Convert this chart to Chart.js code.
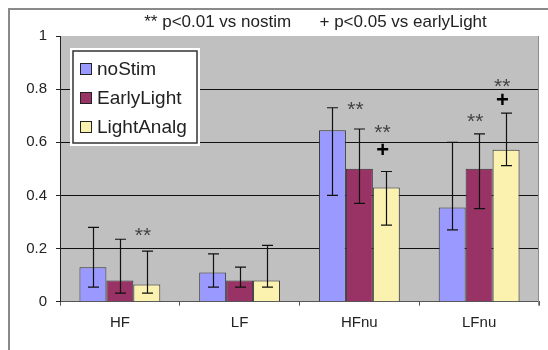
<!DOCTYPE html>
<html lang="en">
  <head>
    <meta charset="UTF-8" />
    <title>HRV bars</title>
    <script src="https://cdn.jsdelivr.net/npm/chart.js@4.4.0/dist/chart.umd.min.js"></script>
    <style>
      html,
      body {
        margin: 0;
        padding: 0;
        background: #fff;
      }
      canvas {
        display: block;
      }
    </style>
  </head>
  <body>
    <canvas id="chart" width="548" height="350"></canvas>
    <script>
      const categories = ["HF", "LF", "HFnu", "LFnu"];

      const noStim = [0.13, 0.11, 0.645, 0.355];
      const noStimLow = [0.055, 0.055, 0.4, 0.27];
      const noStimHigh = [0.28, 0.18, 0.73, 0.6];

      const earlyLight = [0.08, 0.08, 0.5, 0.5];
      const earlyLightLow = [0.032, 0.055, 0.37, 0.35];
      const earlyLightHigh = [0.235, 0.13, 0.65, 0.632];

      const lightAnalg = [0.065, 0.08, 0.43, 0.572];
      const lightAnalgLow = [0.032, 0.055, 0.288, 0.512];
      const lightAnalgHigh = [0.19, 0.212, 0.49, 0.71];

      // significance marks: text, category, series index, height (value units)
      const markText = ["**", "**", "**", "+", "**", "**", "+"];
      const markCategory = ["HF", "HFnu", "HFnu", "HFnu", "LFnu", "LFnu", "LFnu"];
      const markSeries = [2, 1, 2, 2, 1, 2, 2];
      const markValue = [0.262, 0.738, 0.65, 0.575, 0.69, 0.823, 0.763];

      const titleText = "** p<0.01 vs nostim      + p<0.05 vs earlyLight";

      const errLow = [noStimLow, earlyLightLow, lightAnalgLow];
      const errHigh = [noStimHigh, earlyLightHigh, lightAnalgHigh];

      const FONT = "'Liberation Sans', Arial, sans-serif";

      const decor = {
        id: "decor",
        beforeDraw(chart) {
          const { ctx, chartArea: a } = chart;
          ctx.save();
          ctx.fillStyle = "#fff";
          ctx.fillRect(0, 0, chart.width, chart.height);
          ctx.fillStyle = "#c0c0c0";
          ctx.fillRect(a.left, a.top, a.right - a.left, a.bottom - a.top);
          // outer frame
          ctx.strokeStyle = "#8a8a8a";
          ctx.lineWidth = 2;
          ctx.beginPath();
          ctx.moveTo(9, chart.height);
          ctx.lineTo(9, 9);
          ctx.lineTo(chart.width, 9);
          ctx.stroke();
          ctx.restore();
        },
        afterDatasetsDraw(chart) {
          const { ctx, chartArea: a } = chart;
          const y = chart.scales.y;
          ctx.save();
          // right edge of plot area
          ctx.strokeStyle = "#8c8c8c";
          ctx.lineWidth = 1;
          ctx.beginPath();
          ctx.moveTo(a.right - 0.5, a.top);
          ctx.lineTo(a.right - 0.5, a.bottom + 4);
          ctx.stroke();

          // error bars
          ctx.strokeStyle = "#111";
          ctx.lineWidth = 1.2;
          chart.data.datasets.forEach((ds, i) => {
            const meta = chart.getDatasetMeta(i);
            meta.data.forEach((bar, j) => {
              const x = Math.round(bar.x) + 0.5;
              const yl = y.getPixelForValue(errLow[i][j]);
              const yh = y.getPixelForValue(errHigh[i][j]);
              ctx.beginPath();
              ctx.moveTo(x, yl);
              ctx.lineTo(x, yh);
              ctx.moveTo(x - 5.5, yl);
              ctx.lineTo(x + 5.5, yl);
              ctx.moveTo(x - 5.5, yh);
              ctx.lineTo(x + 5.5, yh);
              ctx.stroke();
            });
          });

          // significance marks
          markText.forEach((t, k) => {
            const j = categories.indexOf(markCategory[k]);
            const bar = chart.getDatasetMeta(markSeries[k]).data[j];
            ctx.font = t === "+" ? "bold 22px " + FONT : "21px " + FONT;
            ctx.fillStyle = t === "+" ? "#000" : "#444";
            const m = ctx.measureText(t);
            const inkW = m.actualBoundingBoxLeft + m.actualBoundingBoxRight;
            const cx = bar.x - 4;
            const cy = y.getPixelForValue(markValue[k]);
            ctx.textAlign = "left";
            ctx.textBaseline = "alphabetic";
            ctx.fillText(
              t,
              cx - inkW / 2 + m.actualBoundingBoxLeft,
              cy + (m.actualBoundingBoxAscent - m.actualBoundingBoxDescent) / 2
            );
          });

          // title
          ctx.font = "17px " + FONT;
          ctx.fillStyle = "#222";
          ctx.textAlign = "center";
          ctx.textBaseline = "middle";
          ctx.fillText(titleText, (a.left + a.right) / 2 + 16, 22);

          // legend
          const lx = 73,
            ly = 51,
            lw = 124,
            lh = 92;
          ctx.fillStyle = "#fff";
          ctx.fillRect(lx - 3, ly - 3, lw + 6, lh + 6);
          ctx.strokeStyle = "#333";
          ctx.lineWidth = 1.5;
          ctx.strokeRect(lx, ly, lw, lh);
          ctx.font = "19px " + FONT;
          ctx.textAlign = "left";
          ctx.textBaseline = "middle";
          chart.data.datasets.forEach((ds, i) => {
            const cy = ly + 18 + i * 29;
            ctx.fillStyle = ds.backgroundColor;
            ctx.fillRect(81, cy - 5, 10, 10);
            ctx.strokeStyle = "#222";
            ctx.lineWidth = 1;
            ctx.strokeRect(80.5, cy - 5.5, 11, 11);
            ctx.fillStyle = "#222";
            ctx.fillText(ds.label, 97, cy + 1);
          });
          ctx.restore();
        },
      };

      new Chart(document.getElementById("chart"), {
        type: "bar",
        data: {
          labels: categories,
          datasets: [
            { label: "noStim", data: noStim, backgroundColor: "#9999ff" },
            { label: "EarlyLight", data: earlyLight, backgroundColor: "#993366" },
            { label: "LightAnalg", data: lightAnalg, backgroundColor: "#fbf2b0" },
          ],
        },
        options: {
          responsive: false,
          devicePixelRatio: 1,
          animation: false,
          layout: { padding: { top: 36, right: 9, left: 0, bottom: 0 } },
          datasets: {
            bar: {
              barPercentage: 1,
              categoryPercentage: 0.675,
              borderWidth: 1,
              borderColor: "#333",
            },
          },
          plugins: {
            legend: { display: false },
            title: { display: false },
            tooltip: { enabled: false },
          },
          scales: {
            x: {
              grid: {
                offset: true,
                drawOnChartArea: false,
                drawTicks: true,
                tickLength: 4,
                color: "#555",
              },
              border: { color: "#555", width: 1 },
              ticks: {
                color: "#222",
                padding: 8,
                font: { family: FONT, size: 15 },
              },
              afterFit(s) {
                s.height = 48.3;
              },
            },
            y: {
              min: 0,
              max: 1,
              ticks: {
                stepSize: 0.2,
                color: "#222",
                padding: 9,
                font: { family: FONT, size: 15 },
                callback: (v) => String(Math.round(v * 10) / 10),
              },
              grid: {
                color: (c) =>
                  c.tick && (c.tick.value === 0 || c.tick.value === 1)
                    ? "rgba(0,0,0,0)"
                    : "#111",
                tickColor: "#222",
                tickLength: 4,
                lineWidth: 1,
              },
              border: { color: "#222", width: 1 },
              afterFit(s) {
                s.width = 60;
              },
            },
          },
        },
        plugins: [decor],
      });
    </script>
  </body>
</html>
